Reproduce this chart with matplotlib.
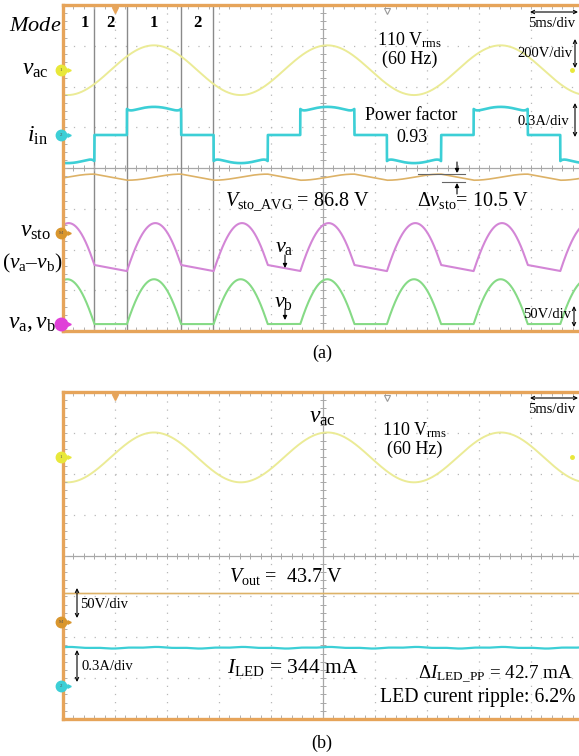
import numpy as np
import matplotlib.pyplot as plt

plt.rcParams["font.family"] = ["Liberation Serif", "DejaVu Serif"]
plt.rcParams["mathtext.fontset"] = "custom"
plt.rcParams["mathtext.rm"] = "Liberation Serif"
plt.rcParams["mathtext.it"] = "Liberation Serif:italic"
plt.rcParams["mathtext.bf"] = "Liberation Serif:bold"

W, H = 579, 756

# ---- scope settings ----
ms_per_div = 5
ch_scale = {"vac": 200.0, "iin": 0.3, "vsto": 50.0, "vab": 50.0, "vout": 50.0, "iled": 0.3}
# ground markers, divisions from the centre line
gnd_a = {"vac": 2.40, "iin": 0.81, "vsto": -1.60, "vab": -3.83}
gnd_b = {"vac": 2.40, "vout": -1.62, "iled": -3.19}

# line input: 110 Vrms, 60 Hz
vac_freq = 60.0
vac_crest_ms = 8.75
vac_peak_V = 122.0

# mode cursors in (a) and the mode numbers between them
cursor_ms = [2.98, 6.15, 11.35, 14.42]
mode_ms = [2.12, 4.52, 8.75, 12.88]
mode_txt = ["1", "2", "1", "2"]
mode1_half_ms = 2.6

# trace levels
iin_edge_A, iin_top_A, iin_hook_A = 0.160, 0.207, 0.032
vb_top_V = 55.0
vsto_lo_V, vsto_hi_V = 65.0, 72.5
vout_V = 34.5
iled_A, iled_ripple_A = 0.280, 0.004

# colours
frame_c = "#E6A45A"
grid_c = "#B8B8B8"
c_vac, c_iin, c_vsto = "#EBEB96", "#3CCFD6", "#DDB267"
c_va, c_vb = "#D386D6", "#86DA86"

# ---- waveforms ----
t = np.linspace(0, 50, 5001)
half = 1000.0 / vac_freq / 2
vac = vac_peak_V * np.cos(2 * np.pi * vac_freq * (t - vac_crest_ms) / 1000)
u = ((t - vac_crest_ms) / half + 0.5) % 1.0
w = mode1_half_ms / half
dist = w - np.abs(u - 0.5)
mode1 = dist > 0
c0 = np.cos(np.pi * w)
dome = np.clip((np.abs(np.cos(np.pi * (u - 0.5))) - c0) / (1 - c0), 0, 1)

iin = np.where(mode1, np.sign(vac) * (iin_edge_A + (iin_top_A - iin_edge_A) * dome
                                      + iin_hook_A * np.exp(-dist * half / 0.3)), 0.0)
r1 = np.clip((u - (0.5 - w)) / (2 * w), 0, 1)
r2 = ((u - (0.5 + w)) % 1.0) / (1 - 2 * w)
vsto = np.where(mode1, vsto_lo_V + (vsto_hi_V - vsto_lo_V) * (1 - np.cos(np.pi * r1)) / 2,
                vsto_hi_V - (vsto_hi_V - vsto_lo_V) * r2)
vb = vb_top_V * dome
va = vb + vsto

vout = np.full_like(t, vout_V)
iled = iled_A + iled_ripple_A * np.cos(4 * np.pi * vac_freq * (t - vac_crest_ms) / 1000) \
    + 0.5 * iled_ripple_A * np.sin(12 * np.pi * vac_freq * t / 1000)

fig = plt.figure(figsize=(W / 100, H / 100), dpi=100)


def P(x, y):
    return (x / W, 1 - y / H)


def ftxt(x, y, s, size=13, ha="left", **kw):
    fig.text(x / W, 1 - y / H, s, fontsize=size, ha=ha, va="baseline", **kw)


def arrow(x0, y0, x1, y1, style="<->"):
    fig.add_artist(plt.matplotlib.patches.FancyArrowPatch(
        P(x0, y0), P(x1, y1), transform=fig.transFigure, arrowstyle=style,
        mutation_scale=6, lw=0.8, color="black", shrinkA=0, shrinkB=0))


def scope(top, bottom):
    rect = [63 / W, 1 - bottom / H, 520 / W, (bottom - top) / H]
    ax = fig.add_axes(rect)
    ax.set_xlim(0, 10 * ms_per_div)
    ax.set_ylim(-4, 4)
    for x in np.arange(5, 50, 5):
        if x != 25:
            ax.axvline(x, color=grid_c, lw=0.9, ls=(0, (1, 5.5)), zorder=0)
    for y in (-3, -2, -1, 1, 2, 3):
        ax.axhline(y, color=grid_c, lw=0.9, ls=(0, (1, 7.3)), zorder=0)
    for s in ("top", "right"):
        ax.spines[s].set_visible(False)
    ax.spines["left"].set_position(("data", 25))
    ax.spines["bottom"].set_position(("data", 0))
    for s in ("left", "bottom"):
        ax.spines[s].set_color("#A8A8A8")
        ax.spines[s].set_linewidth(0.9)
        ax.spines[s].set_zorder(0)
    ax.set_xticks(np.arange(0, 51, 5))
    ax.set_xticks(np.arange(0, 51, 1), minor=True)
    ax.set_yticks(np.arange(-4, 5, 1))
    ax.set_yticks(np.arange(-4, 4.01, 0.2), minor=True)
    ax.tick_params(which="both", direction="inout", length=4, width=0.7,
                   colors="#A8A8A8", labelbottom=False, labelleft=False)
    fr = fig.add_axes(rect, facecolor="none")
    fr.set_xlim(0, 50)
    fr.set_ylim(-4, 4)
    for s in fr.spines.values():
        s.set_color(frame_c)
        s.set_linewidth(2.4)
    fr.set_xticks(np.arange(0, 51, 1))
    fr.set_yticks(np.arange(-4, 4.01, 0.2))
    fr.tick_params(direction="in", length=3, width=0.7, colors="#B0B0B0",
                   top=True, right=True, labelbottom=False, labelleft=False)
    # trigger markers on the top edge
    fr.plot([5], [3.88], marker="v", ms=5, color=frame_c, clip_on=False)
    fr.plot([31.15], [3.85], marker="v", ms=5, mfc="white", mec="#999999", mew=0.8, clip_on=False)
    return ax, fr


def ground(fr, y, color, tag, size=7.5):
    fr.plot([-0.2], [y], marker="o", ms=size, color=color, mec=color, clip_on=False, zorder=5)
    fr.text(-0.2, y, tag, fontsize=3.5, ha="center", va="center", color="#555555", zorder=6,
            clip_on=False)
    fr.plot([0.55], [y], marker=">", ms=2.5, color=color, clip_on=False, zorder=5)


# ================= (a) =================
ax, fr = scope(5, 331)
for x in cursor_ms:
    ax.axvline(x, color="#8A8A8A", lw=1.0, zorder=1)
ax.plot(t, gnd_a["vac"] + vac / ch_scale["vac"], color=c_vac, lw=1.4, zorder=3)
ax.plot(t, gnd_a["iin"] + iin / ch_scale["iin"], color=c_iin, lw=1.9, zorder=3)
ax.plot(t, gnd_a["vsto"] + vsto / ch_scale["vsto"], color=c_vsto, lw=1.2, zorder=3)
ax.plot(t, gnd_a["vab"] + va / ch_scale["vab"], color=c_va, lw=1.5, zorder=3)
ax.plot(t, gnd_a["vab"] + vb / ch_scale["vab"], color=c_vb, lw=1.5, zorder=3)
for x, s in zip(mode_ms, mode_txt):
    ax.text(x, 3.45, s, fontsize=12, fontweight="bold", ha="center", va="baseline")

ground(fr, gnd_a["vac"], "#E8E83A", "1")
ground(fr, gnd_a["iin"], "#3CCFD6", "2")
ground(fr, gnd_a["vsto"], "#D9962E", "M")
ground(fr, gnd_a["vab"], "#E040D8", "", size=9)
fr.plot([48.9], [gnd_a["vac"]], marker="o", ms=2.5, color="#E8E83A", clip_on=False)

ftxt(35, 31, r"$Mode$", size=16, ha="center")
ftxt(49, 75, r"$v_{\mathrm{ac}}$", size=17, ha="right")
ftxt(48, 142, r"$i_{\mathrm{in}}$", size=17, ha="right")
ftxt(51, 237, r"$v_{\mathrm{sto}}$", size=17, ha="right")
ftxt(62, 268, r"$(v_{\mathrm{a}}$–$v_{\mathrm{b}})$", size=15.5, ha="right")
ftxt(56, 328, r"$v_{\mathrm{a}},v_{\mathrm{b}}$", size=17, ha="right")

ftxt(410, 45, r"110 V$_{\mathrm{rms}}$", ha="center")
ftxt(410, 64, "(60 Hz)", ha="center")
ftxt(411, 120, "Power factor", ha="center")
ftxt(412, 142, "0.93", ha="center")
ftxt(225, 206, r"$V_{\mathrm{sto\_AVG}}$ = 86.8 V", size=14.5)
ftxt(417, 206, r"$\Delta v_{\mathrm{sto}}$= 10.5 V", size=14.5)
ftxt(284, 252, r"$v_{\mathrm{a}}$", size=16, ha="center")
ftxt(284, 307, r"$v_{\mathrm{b}}$", size=16, ha="center")
arrow(285, 255, 285, 268, "-|>")
arrow(285, 309, 285, 320, "-|>")

fig.add_artist(plt.Line2D([418 / W, 465 / W], [1 - 174 / H] * 2, color="#666666", lw=0.8))
fig.add_artist(plt.Line2D([442 / W, 465 / W], [1 - 182 / H] * 2, color="#666666", lw=0.8))
arrow(457, 162, 457, 173, "-|>")
arrow(457, 194, 457, 183, "-|>")

ftxt(528, 27, "5ms/div", size=10.5)
arrow(530, 12, 578, 12)
ftxt(517, 57, "200V/div", size=10.5)
arrow(575, 39, 575, 68)
ftxt(518, 125, "0.3A/div", size=10.5)
arrow(575, 103, 575, 137)
ftxt(523, 318, "50V/div", size=10.5)
arrow(574, 306, 574, 327)
ftxt(322, 358, "(a)", ha="center")

# ================= (b) =================
bx, fr2 = scope(392, 719)
bx.plot(t, gnd_b["vac"] + vac / ch_scale["vac"], color=c_vac, lw=1.4, zorder=3)
bx.plot(t, gnd_b["vout"] + vout / ch_scale["vout"], color=c_vsto, lw=1.2, zorder=3)
bx.plot(t, gnd_b["iled"] + iled / ch_scale["iled"], color=c_iin, lw=1.6, zorder=3)
ground(fr2, gnd_b["vac"], "#E8E83A", "1")
ground(fr2, gnd_b["vout"], "#D9962E", "M")
ground(fr2, gnd_b["iled"], "#3CCFD6", "2")
fr2.plot([48.9], [gnd_b["vac"]], marker="o", ms=2.5, color="#E8E83A", clip_on=False)

ftxt(322, 423, r"$v_{\mathrm{ac}}$", size=17, ha="center")
ftxt(415, 435, r"110 V$_{\mathrm{rms}}$", ha="center")
ftxt(415, 454, "(60 Hz)", ha="center")
ftxt(528, 413, "5ms/div", size=10.5)
arrow(530, 398, 578, 398)
ftxt(229, 582, r"$V_{\mathrm{out}}$ =  43.7 V", size=14.5)
ftxt(80, 608, "50V/div", size=10.5)
arrow(77, 588, 77, 618)
ftxt(81, 670, "0.3A/div", size=10.5)
arrow(77, 650, 77, 682)
ftxt(227, 673, r"$I_{\mathrm{LED}}$ = 344 mA", size=15.5)
ftxt(418, 678, r"$\Delta I_{\mathrm{LED\_PP}}$ = 42.7 mA", size=13.7)
ftxt(380, 702, "LED curent ripple: 6.2%", size=14.2)
ftxt(322, 748, "(b)", ha="center")

fig.savefig("out.png", dpi=100)
